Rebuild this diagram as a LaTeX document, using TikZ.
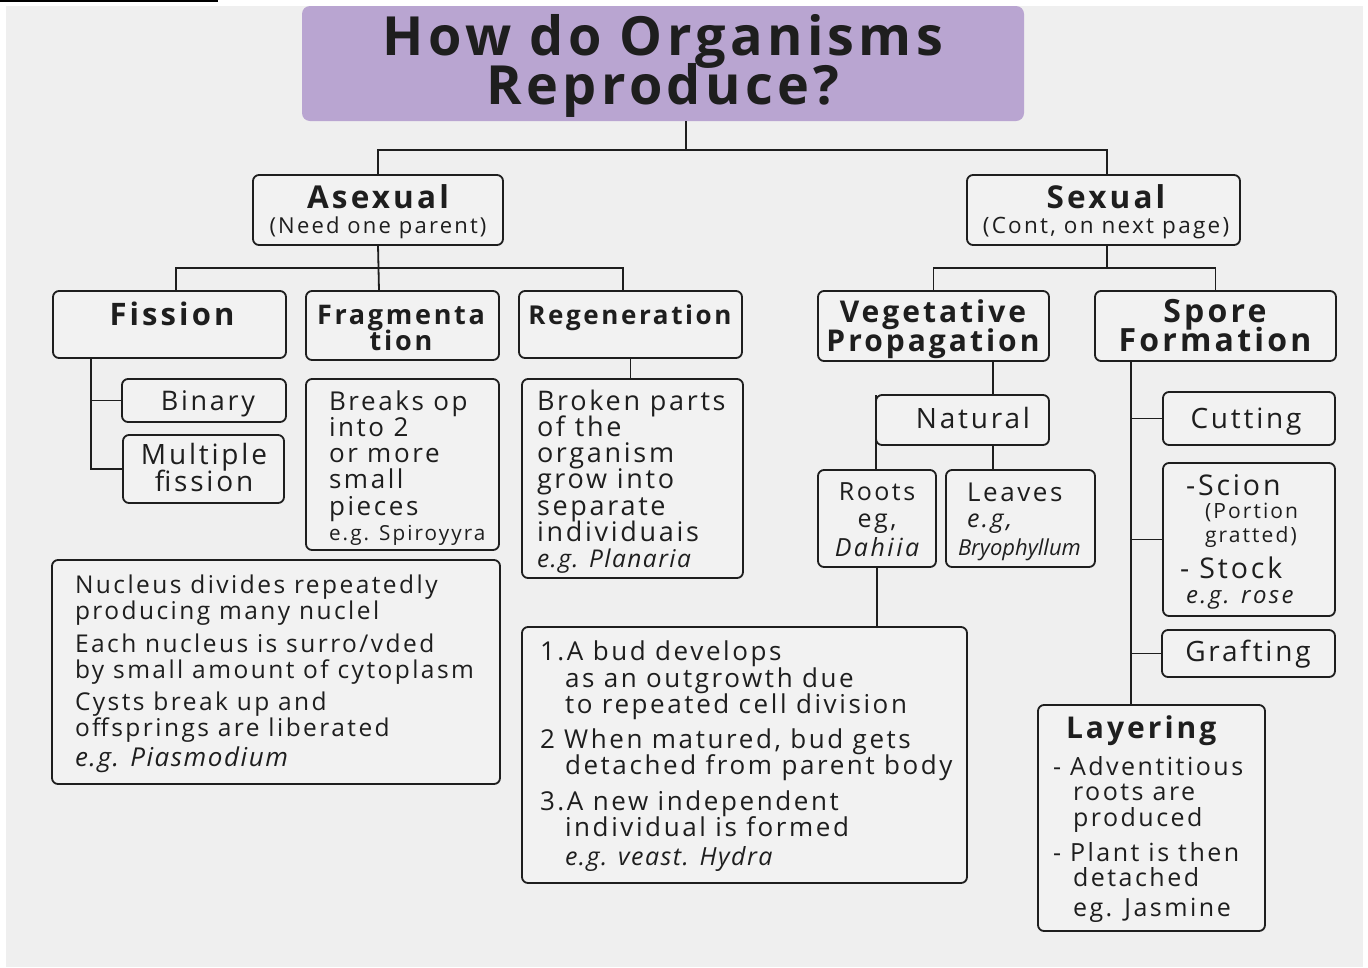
\documentclass[tikz,border=0pt]{standalone}
\usepackage{fontspec}
\setmainfont{Open Sans}
\newfontfamily\ws[LetterSpace=10]{Open Sans}
\newfontfamily\wt[LetterSpace=8]{Open Sans}
\newfontfamily\wi[LetterSpace=6]{Open Sans}
\definecolor{bg}{HTML}{EFEFEF}
\definecolor{boxbg}{HTML}{F2F2F2}
\definecolor{titlebg}{HTML}{B9A5D1}
\definecolor{ink}{HTML}{1E1E1E}
\newcommand\bx[6][]{\node[box,#1,minimum width={(#4-#2)*1pt},minimum height={(#5-#3)*1pt}] (#6) at ({(#2+#4)/2},{(#3+#5)/2}) {};}
\newcommand\fs[1]{\fontsize{#1}{#1}\selectfont}
\begin{document}
\begin{tikzpicture}[x=1pt,y=-1pt,
  box/.style={draw=ink,line width=1.8pt,rounded corners=6pt,fill=boxbg,inner sep=0pt,outer sep=0pt},
  conn/.style={draw=ink,line width=1.8pt},
  tx/.style={inner sep=0pt,outer sep=0pt,text=ink},
  tt/.style={tx,font=\wt\fs{54}\bfseries},
  hd/.style={tx,font=\ws\fs{30}\bfseries},
  bd/.style={tx,font=\ws\fs{26}},
  nb/.style={tx,font=\ws\fs{24.5}},
  it/.style={tx,font=\wi\fs{24.5}\itshape},
  sm/.style={tx,font=\ws\fs{22}},
]
\useasboundingbox (0,0) rectangle (1368,967);
\fill[white] (0,0) rectangle (1368,967);
\fill[bg] (6,6) rectangle (1363,967);
\draw[line width=1.5pt] (0,0.75) -- (218,0.75);

% title
\node[fill=titlebg,rounded corners=8pt,minimum width=722pt,minimum height=115pt,inner sep=0pt,outer sep=0pt] (title) at (663,63.5) {};
\node[tt,anchor=base] (tt1) at (663,55) {How do Organisms};
\node[tt,anchor=base] (tt2) at (663,104) {Reproduce?};

% boxes
\bx{253}{175}{503}{245}{asex}
\bx{967}{175}{1240}{245}{sex}
\bx{53}{291}{286}{358}{fis}
\bx{306}{291}{499}{360}{frag}
\bx{519}{291}{742}{358}{reg}
\bx{122}{379}{286}{422}{bin}
\bx{123}{435}{284}{503}{mult}
\bx{306}{379}{499}{550}{fragt}
\bx{522}{379}{743}{578}{regt}
\bx{52}{560}{500}{784}{nuc}
\bx{818}{291}{1049}{361}{veg}
\bx{1095}{291}{1336}{361}{spore}
\bx{876}{395}{1049}{445}{nat}
\bx{818}{470}{936}{567}{roots}
\bx{946}{470}{1095}{567}{leaves}
\bx{1163}{392}{1335}{445}{cut}
\bx{1163}{463}{1335}{616}{scion}
\bx{1162}{630}{1335}{677}{graft}
\bx{522}{627}{967}{883}{bud}
\bx{1038}{705}{1265}{931}{lay}

% connectors
\coordinate (j1) at (686,150);
\draw[conn] (j1 |- title.south) -- (j1);
\draw[conn] (asex.north) |- (j1) -| ([xshift=3.5pt]sex.north);
\coordinate (j2) at (378,268);
\draw[conn] (asex.south) -- ([xshift=-23.5pt]frag.north);
\draw[conn] ([xshift=6.5pt]fis.north) |- (j2) -| ([xshift=-7.5pt]reg.north);
\draw[conn] ([xshift=-78.5pt]fis.south) |- (mult.west);
\draw[conn] (bin.west) -- ++(-31,0);
\draw[conn] (reg.south) -- (reg.south |- regt.north);
\coordinate (j3) at (1107,268);
\draw[conn] ([xshift=3.5pt]sex.south) -- (j3);
\draw[conn] (veg.north) |- (j3) -| (spore.north);
\coordinate (nc) at (993,395);
\draw[conn] (veg.south -| nc) -- (nat.north -| nc);
\draw[conn] (nat.south -| nc) -- (leaves.north -| nc);
\draw[conn] (nat.north west) -- (nat.north west |- roots.north);
\draw[conn] (roots.south) -- (roots.south |- bud.north);
\coordinate (sv) at (1131,361);
\draw[conn] (spore.south -| sv) -- (lay.north -| sv);
\draw[conn] (cut.west) -- (cut.west -| sv);
\draw[conn] (scion.west) -- (scion.west -| sv);
\draw[conn] (graft.west) -- (graft.west -| sv);

% texts
\node[hd,anchor=base,font=\ws\fs{31.5}\bfseries] (a1) at (378,208) {Asexual};
\node[sm,anchor=base] (a2) at (378,233) {(Need one parent)};
\node[hd,anchor=base,font=\ws\fs{31.5}\bfseries] (s1) at (1106,208) {Sexual};
\node[sm,anchor=base,font=\ws\fs{22.5}] (s2) at (1106,233) {(Cont, on next page)};
\node[hd,anchor=base,font=\ws\fs{31}\bfseries] (f1) at (172,325) {Fission};
\node[hd,anchor=base,font=\ws\fs{27}\bfseries] (g1) at (401,324) {Fragmenta};
\node[hd,anchor=base,font=\ws\fs{27}\bfseries] (g2) at (401,350) {tion};
\node[hd,anchor=base,font=\ws\fs{26}\bfseries] (r1) at (630,324) {Regeneration};
\node[bd,anchor=base,font=\ws\fs{27}] (b1) at (208,410) {Binary};
\node[bd,anchor=base,font=\ws\fs{28}] (m1) at (204,464) {Multiple};
\node[bd,anchor=base,font=\ws\fs{28}] (m2) at (204,491) {fission};

\node[bd,anchor=base west] (ft1) at (329,410) {Breaks op};
\node[bd,anchor=base west] (ft2) at (329,436) {into 2};
\node[bd,anchor=base west] (ft3) at (329,462) {or more};
\node[bd,anchor=base west] (ft4) at (329,488) {small};
\node[bd,anchor=base west] (ft5) at (329,515) {pieces};
\node[sm,anchor=base west,font=\ws\fs{20.7}] (ft6) at (329,540) {e.g. Spiroyyra};

\node[bd,anchor=base west,font=\ws\fs{27}] (rt1) at (537,410) {Broken parts};
\node[bd,anchor=base west,font=\ws\fs{27}] (rt2) at (537,436) {of the};
\node[bd,anchor=base west,font=\ws\fs{27}] (rt3) at (537,462) {organism};
\node[bd,anchor=base west,font=\ws\fs{27}] (rt4) at (537,488) {grow into};
\node[bd,anchor=base west,font=\ws\fs{27}] (rt5) at (537,515) {separate};
\node[bd,anchor=base west,font=\ws\fs{27}] (rt6) at (537,541) {individuais};
\node[it,anchor=base west] (rt7) at (537,567) {e.g. Planaria};

\node[nb,anchor=base west] (n1) at (75,593) {Nucleus divides repeatedly};
\node[nb,anchor=base west] (n2) at (75,619) {producing many nuclel};
\node[nb,anchor=base west] (n3) at (75,652) {Each nucleus is surro/vded};
\node[nb,anchor=base west] (n4) at (75,678) {by small amount of cytoplasm};
\node[nb,anchor=base west] (n5) at (75,710) {Cysts break up and};
\node[nb,anchor=base west] (n6) at (75,736) {offsprings are liberated};
\node[it,anchor=base west,font=\wi\fs{26}\itshape] (n7) at (75,766) {e.g. Piasmodium};

\node[hd,anchor=base] (v1) at (933,322) {Vegetative};
\node[hd,anchor=base] (v2) at (933,351) {Propagation};
\node[hd,anchor=base,font=\ws\fs{32}\bfseries] (sp1) at (1215,322) {Spore};
\node[hd,anchor=base,font=\ws\fs{32}\bfseries] (sp2) at (1215,351) {Formation};
\node[bd,anchor=base,font=\ws\fs{28}] (na1) at (973,428) {Natural};
\node[bd,anchor=base,font=\ws\fs{25}] (ro1) at (877,500) {Roots};
\node[bd,anchor=base,font=\ws\fs{25}] (ro2) at (877,527) {eg,};
\node[it,anchor=base,font=\ws\fs{25}\itshape] (ro3) at (877,556) {Dahiia};
\node[bd,anchor=base west,font=\ws\fs{26}] (le1) at (967,501) {Leaves};
\node[it,anchor=base west,font=\ws\fs{25}\itshape] (le2) at (967,527) {e.g,};
\node[tx,anchor=base west,font=\fs{22}\itshape] (le3) at (958,555) {Bryophyllum};

\node[bd,anchor=base,font=\ws\fs{28}] (cu1) at (1246,428) {Cutting};
\node[bd,anchor=base west,font=\ws\fs{28.5}] (sc1) at (1186,495) {-Scion};
\node[sm,anchor=base west,font=\ws\fs{21}] (sc2) at (1205,518) {(Portion};
\node[sm,anchor=base west,font=\ws\fs{21}] (sc3) at (1205,542) {gratted)};
\node[bd,anchor=base west,font=\ws\fs{28.5}] (sc4) at (1180,578) {- Stock};
\node[it,anchor=base west,font=\ws\fs{24}\itshape] (sc5) at (1186,603) {e.g. rose};
\node[bd,anchor=base,font=\ws\fs{28}] (gr1) at (1248,661) {Grafting};

\node[bd,anchor=base west] (bu1) at (540,660) {1.A bud develops};
\node[bd,anchor=base west] (bu2) at (565,687) {as an outgrowth due};
\node[bd,anchor=base west] (bu3) at (565,713) {to repeated cell division};
\node[bd,anchor=base west] (bu4) at (540,748) {2 When matured, bud gets};
\node[bd,anchor=base west] (bu5) at (565,774) {detached from parent body};
\node[bd,anchor=base west] (bu6) at (540,810) {3.A new independent};
\node[bd,anchor=base west] (bu7) at (565,836) {individual is formed};
\node[it,anchor=base west,font=\wi\fs{25}\itshape] (bu8) at (565,865) {e.g. veast. Hydra};

\node[hd,anchor=base west] (la1) at (1066,738) {Layering};
\node[bd,anchor=base west,font=\ws\fs{25}] (la2) at (1053,775) {- Adventitious};
\node[bd,anchor=base west,font=\ws\fs{25}] (la3) at (1073,800) {roots are};
\node[bd,anchor=base west,font=\ws\fs{25}] (la4) at (1073,826) {produced};
\node[bd,anchor=base west,font=\ws\fs{25}] (la5) at (1053,861) {- Plant is then};
\node[bd,anchor=base west,font=\ws\fs{25}] (la6) at (1073,886) {detached};
\node[bd,anchor=base west,font=\ws\fs{25}] (la7) at (1073,916) {eg. Jasmine};
\end{tikzpicture}
\end{document}
